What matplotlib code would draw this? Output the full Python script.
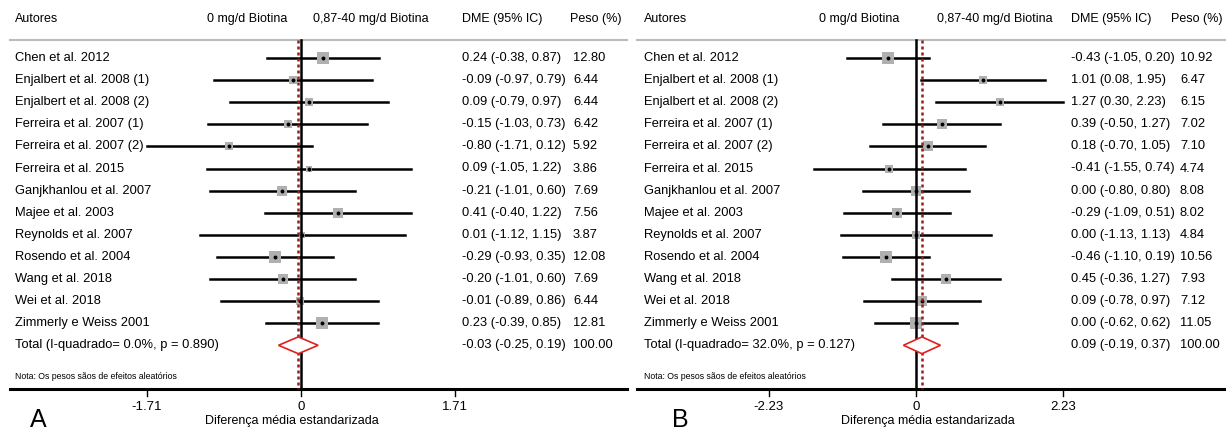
import numpy as np
import matplotlib
matplotlib.use("Agg")
from matplotlib import pyplot as plt
from matplotlib.patches import Polygon

plt.rcParams['font.family'] = ['Liberation Sans', 'DejaVu Sans']

# study names (same in both panels)
studies = ["Chen et al. 2012", "Enjalbert et al. 2008 (1)", "Enjalbert et al. 2008 (2)",
           "Ferreira et al. 2007 (1)", "Ferreira et al. 2007 (2)", "Ferreira et al. 2015",
           "Ganjkhanlou et al. 2007", "Majee et al. 2003", "Reynolds et al. 2007",
           "Rosendo et al. 2004", "Wang et al. 2018", "Wei et al. 2018",
           "Zimmerly e Weiss 2001"]

# panel A
a_est = [0.24, -0.09, 0.09, -0.15, -0.80, 0.09, -0.21, 0.41, 0.01, -0.29, -0.20, -0.01, 0.23]
a_lo = [-0.38, -0.97, -0.79, -1.03, -1.71, -1.05, -1.01, -0.40, -1.12, -0.93, -1.01, -0.89, -0.39]
a_hi = [0.87, 0.79, 0.97, 0.73, 0.12, 1.22, 0.60, 1.22, 1.15, 0.35, 0.60, 0.86, 0.85]
a_w = [12.80, 6.44, 6.44, 6.42, 5.92, 3.86, 7.69, 7.56, 3.87, 12.08, 7.69, 6.44, 12.81]
a_tot = (-0.03, -0.25, 0.19)
a_tot_label = "Total (I-quadrado= 0.0%, p = 0.890)"

# panel B
b_est = [-0.43, 1.01, 1.27, 0.39, 0.18, -0.41, 0.00, -0.29, 0.00, -0.46, 0.45, 0.09, 0.00]
b_lo = [-1.05, 0.08, 0.30, -0.50, -0.70, -1.55, -0.80, -1.09, -1.13, -1.10, -0.36, -0.78, -0.62]
b_hi = [0.20, 1.95, 2.23, 1.27, 1.05, 0.74, 0.80, 0.51, 1.13, 0.19, 1.27, 0.97, 0.62]
b_w = [10.92, 6.47, 6.15, 7.02, 7.10, 4.74, 8.08, 8.02, 4.84, 10.56, 7.93, 7.12, 11.05]
b_tot = (0.09, -0.19, 0.37)
b_tot_label = "Total (I-quadrado= 32.0%, p = 0.127)"

W, H = 1226, 432
fig = plt.figure(figsize=(W / 100, H / 100), dpi=100)

ROW0, ROWH = 58, 22.1   # pixel y of first row, row height
ylim = ((H - ROW0) / ROWH, (0 - ROW0) / ROWH)


def rowy(py):
    return (py - ROW0) / ROWH


def panel(left, right, zero, scale, est, lo, hi, w, tot, tot_label, letter, cols):
    ax = fig.add_axes([left / W, 0, (right - left) / W, 1])
    ax.set_xlim((left - zero) / scale, (right - zero) / scale)
    ax.set_ylim(*ylim)
    ax.axis('off')
    px = lambda p: (p - zero) / scale
    n = len(est)
    rows = np.arange(n)
    fs = 9.3

    # header
    hy = rowy(19)
    ax.text(px(cols['lab']), hy, "Autores", fontsize=9, va='center', ha='left')
    ax.text(px(cols['ctl']), hy, "0 mg/d Biotina", fontsize=9, va='center', ha='right')
    ax.text(px(cols['trt']), hy, "0,87-40 mg/d Biotina", fontsize=9, va='center', ha='left')
    ax.text(px(cols['dme']), hy, "DME (95% IC)", fontsize=9, va='center', ha='left')
    ax.text(px(cols['pesoh']), hy, "Peso (%)", fontsize=9, va='center', ha='left')
    ax.plot([px(cols['line0']), px(cols['line1'])], [rowy(40)] * 2, color='#bbbbbb', lw=1.5)

    # bottom axis
    ybase = rowy(389)
    ax.plot([px(cols['line0']), px(cols['line1'])], [ybase] * 2, color='black', lw=2.2)
    tick = max(max(abs(v) for v in lo), max(abs(v) for v in hi))
    for t in (-tick, 0, tick):
        ax.plot([t, t], [ybase, ybase + 0.3], color='black', lw=1)
        lab = "0" if t == 0 else f"{t:.2f}"
        ax.text(t, rowy(407), lab, fontsize=9.5, ha='center', va='center')
    ax.text(px(cols['xlab']), rowy(421), "Diferença média estandarizada", fontsize=9,
            ha='center', va='center')
    ax.text(px(cols['letter']), rowy(427), letter, fontsize=18, ha='center', va='baseline')

    # reference lines
    ytop = rowy(40)
    ax.plot([0, 0], [ytop, ybase], color='black', lw=1.8, zorder=3)
    ax.plot([tot[0], tot[0]], [ytop, ybase], color='#9b1c1c', lw=1.8,
            linestyle=(0, (1.2, 1.2)), zorder=4)

    # studies
    for i in rows:
        ax.text(px(cols['lab']), i, studies[i], fontsize=fs, va='center', ha='left')
        ax.plot([lo[i], hi[i]], [i, i], color='black', lw=1.8, zorder=2)
        ax.plot(est[i], i, marker='s', color='#b0b0b0', markeredgewidth=0,
                markersize=2.5 * np.sqrt(w[i]), zorder=2)
        ax.plot(est[i], i, marker='o', color='black', markersize=1.8, zorder=2)
        ax.text(px(cols['dme']), i, f"{est[i]:.2f} ({lo[i]:.2f}, {hi[i]:.2f})",
                fontsize=fs, va='center', ha='left')
        ax.text(px(cols['peso']), i, f"{w[i]:.2f}", fontsize=fs, va='center', ha='left')

    # overall
    e, l, h = tot
    ax.text(px(cols['lab']), n, tot_label, fontsize=fs, va='center', ha='left')
    ax.add_patch(Polygon([[l, n], [e, n - 0.38], [h, n], [e, n + 0.38]], closed=True,
                         facecolor='white', edgecolor='#e0201c', lw=1.2, zorder=5))
    ax.text(px(cols['dme']), n, f"{e:.2f} ({l:.2f}, {h:.2f})", fontsize=fs,
            va='center', ha='left')
    ax.text(px(cols['peso']), n, "100.00", fontsize=fs, va='center', ha='left')
    ax.text(px(cols['lab']), rowy(377), "Nota: Os pesos sãos de efeitos aleatórios",
            fontsize=6.3, va='center', ha='left')
    return ax


panel(0, 632, 301, 90.0, a_est, a_lo, a_hi, a_w, a_tot, a_tot_label, "A",
      dict(lab=15, ctl=287, trt=313, dme=462, peso=573, pesoh=570, line0=10, line1=627,
           xlab=292, letter=38))
panel(632, 1226, 916, 66.1, b_est, b_lo, b_hi, b_w, b_tot, b_tot_label, "B",
      dict(lab=644, ctl=899, trt=937, dme=1071, peso=1180, pesoh=1171, line0=637, line1=1226,
           xlab=928, letter=680))

fig.savefig("out.png", dpi=100)
